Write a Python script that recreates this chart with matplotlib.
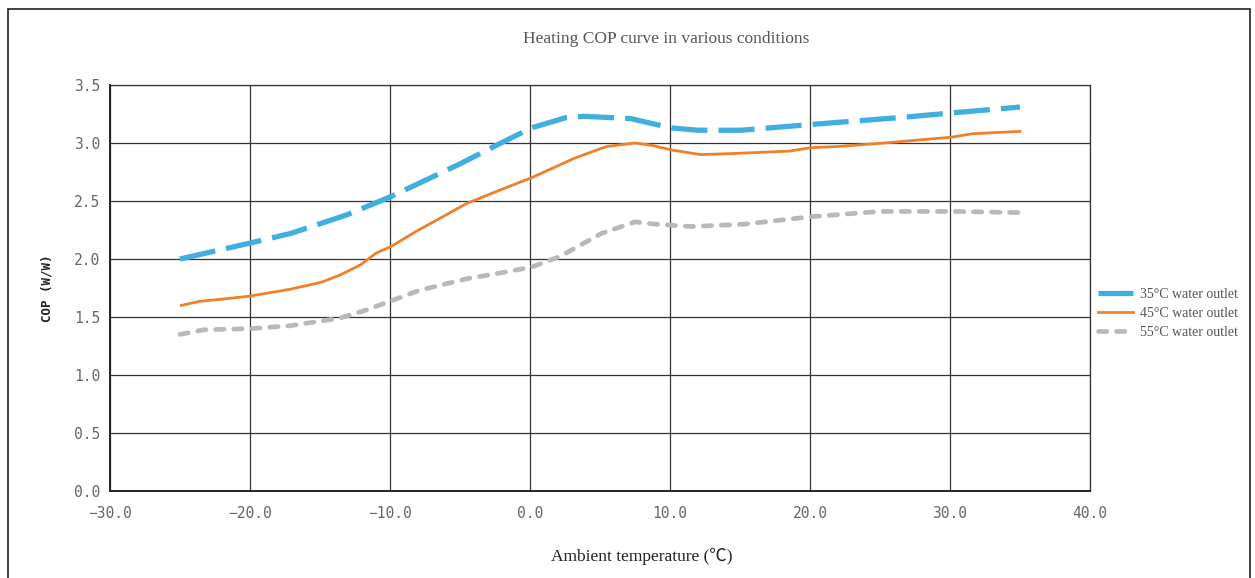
import matplotlib
matplotlib.use("Agg")
import matplotlib.pyplot as plt
from matplotlib.patches import Rectangle

# ---- data ----
x35 = [-25, -19.9, -17.1, -13.1, -11.7, -9.9, -5.0, -2.4, 0.1, 2.6, 3.9, 7.2, 9.0, 10.1, 12.0, 15.1, 20.1, 26.5, 30.2, 35.0]
y35 = [2.00, 2.14, 2.22, 2.38, 2.45, 2.54, 2.82, 2.98, 3.13, 3.22, 3.23, 3.21, 3.16, 3.13, 3.11, 3.11, 3.16, 3.22, 3.26, 3.31]

x45 = [-24.9, -23.6, -22.3, -20.0, -17.1, -14.9, -13.6, -12.1, -11.0, -9.9, -8.1, -6.9, -4.5, -1.4, 0.1, 2.1, 3.2, 5.0, 5.5, 7.5, 8.7, 10.1, 12.2, 14.7, 18.5, 20.1, 22.0, 25.3, 30.1, 31.6, 35.0]
y45 = [1.60, 1.635, 1.65, 1.68, 1.74, 1.80, 1.86, 1.95, 2.05, 2.11, 2.24, 2.32, 2.48, 2.63, 2.70, 2.81, 2.87, 2.95, 2.97, 3.00, 2.98, 2.94, 2.90, 2.91, 2.93, 2.96, 2.97, 3.00, 3.05, 3.08, 3.10]

x55 = [-25, -23.3, -19.9, -17.1, -13.6, -11.7, -9.9, -7.9, -4.5, -2.1, 0.1, 2.1, 5.1, 7.5, 9.0, 11.5, 15.3, 20.1, 25.0, 30.3, 35.0]
y55 = [1.35, 1.39, 1.40, 1.425, 1.49, 1.56, 1.64, 1.73, 1.83, 1.88, 1.93, 2.02, 2.22, 2.32, 2.30, 2.28, 2.30, 2.365, 2.41, 2.41, 2.40]

labels = ["35°C water outlet", "45°C water outlet", "55°C water outlet"]
xticks = [-30, -20, -10, 0, 10, 20, 30, 40]
yticks = [0.0, 0.5, 1.0, 1.5, 2.0, 2.5, 3.0, 3.5]

plt.rcParams['lines.scale_dashes'] = False

W, H = 1255, 578
fig = plt.figure(figsize=(W / 100, H / 100), dpi=100)
fig.patch.set_facecolor('white')

# outer frame
fig.patches.append(Rectangle((8 / W, -0.1), (1250 - 8) / W, 1.1 - 9 / H,
                             transform=fig.transFigure, fill=False,
                             edgecolor='#222222', linewidth=1.2))

ax = fig.add_axes([110 / W, 1 - 491 / H, (1090 - 110) / W, (491 - 85) / H])

c35 = '#41AEE0'
c45 = '#F07F2A'
c55 = '#B8B8BC'

l1, = ax.plot(x35, y35, color=c35, linewidth=3.8, solid_capstyle='butt', dash_capstyle='butt')
l1.set_dashes((26, 8))
l2, = ax.plot(x45, y45, color=c45, linewidth=2.0)
l3, = ax.plot(x55, y55, color=c55, linewidth=3.4, dash_capstyle='round')
l3.set_dashes((6, 7))

ax.set_xlim(-30, 40)
ax.set_ylim(0, 3.5)
ax.set_xticks(xticks)
ax.set_yticks(yticks)
ax.set_xticklabels([f"{v:.1f}".replace('-', '\u2212') for v in xticks])
ax.set_yticklabels([f"{v:.1f}" for v in yticks])
for lab in ax.get_xticklabels() + ax.get_yticklabels():
    lab.set_family('DejaVu Sans Mono')
    lab.set_fontsize(10.5)
    lab.set_color('#666666')
ax.tick_params(axis='both', length=0)
ax.tick_params(axis='y', pad=7)
ax.tick_params(axis='x', pad=11)
ax.grid(True, color='#333333', linewidth=0.9)
ax.set_axisbelow(True)
for s in ['top', 'right']:
    ax.spines[s].set_color('#333333')
    ax.spines[s].set_linewidth(0.9)
for s in ['left', 'bottom']:
    ax.spines[s].set_color('#222222')
    ax.spines[s].set_linewidth(1.4)

fig.text(666 / W, 1 - 39 / H, "Heating COP curve in various conditions",
         ha='center', va='center', family='Liberation Serif', fontsize=12.5, color='#555555')
fig.text(642 / W, 1 - 556 / H, "Ambient temperature (℃)",
         ha='center', va='center', family=['Liberation Serif', 'Noto Sans CJK SC'], fontsize=12.5, color='#222222')
fig.text(47 / W, 1 - 288 / H, "COP (W/W)", rotation=90,
         ha='center', va='center', family='DejaVu Sans Mono', fontweight='bold', fontsize=9, color='#222222')

leg = ax.legend([l1, l2, l3], labels, loc='center left',
                bbox_to_anchor=(1098 / W, 1 - 313.5 / H), bbox_transform=fig.transFigure,
                frameon=False, handlelength=2.5, handletextpad=0.55, labelspacing=0.45,
                borderpad=0, borderaxespad=0,
                prop={'family': 'Liberation Serif', 'size': 10})
for t in leg.get_texts():
    t.set_color('#555555')

fig.savefig('out.png', dpi=100)
